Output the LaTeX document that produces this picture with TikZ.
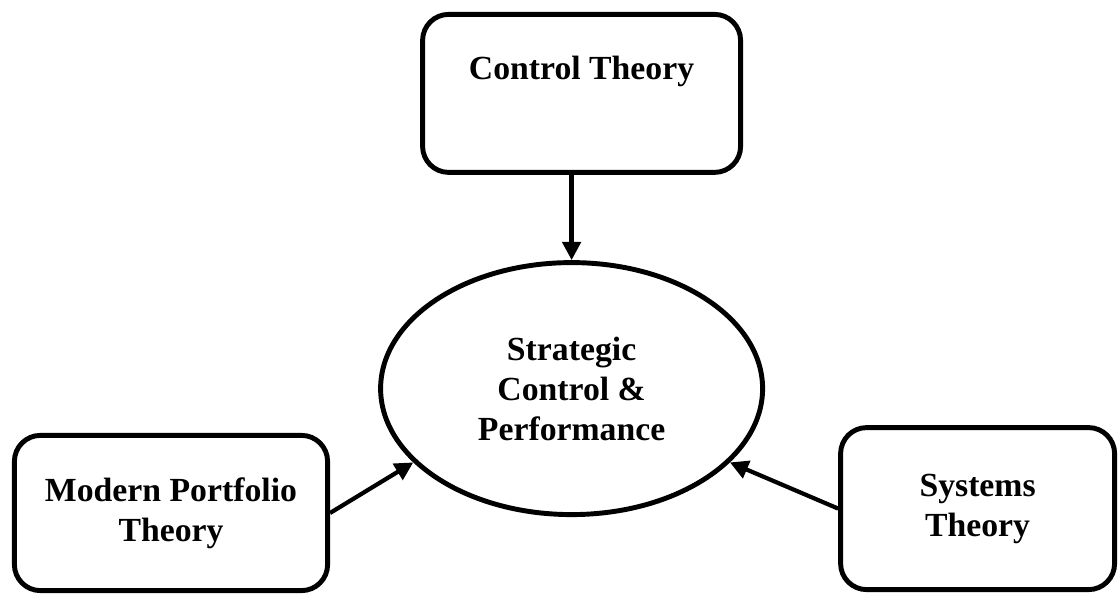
\documentclass[tikz,border=0pt]{standalone}
\usepackage{fontspec}
\setmainfont{Liberation Serif}
\usetikzlibrary{arrows.meta,positioning,shapes.geometric}

\begin{document}
\begin{tikzpicture}[
  font=\fontsize{24}{28.5}\selectfont\bfseries,
  theorybox/.style={draw,line width=3.5pt,rounded corners=0.65cm,align=center,inner sep=0pt},
  core/.style={draw,ellipse,line width=3.5pt,align=center,inner sep=0pt},
  feed/.style={line width=3pt,-{Triangle[length=13pt,width=13pt]}}]
\useasboundingbox (0,0) rectangle (28,14.875);
% theories
\node[theorybox,minimum width=7.95cm,minimum height=3.95cm] (ctrl) at (14.54,12.54) {};
\node (ctrltxt) at ([yshift=-1.5cm]ctrl.north) {Control Theory};
\node[theorybox,minimum width=7.83cm,minimum height=3.88cm] (mpt) at (4.275,2.05)
  {Modern Portfolio\\Theory};
\node[theorybox,minimum width=6.85cm,minimum height=4.05cm] (sys) at (24.44,2.16)
  {Systems\\Theory};
% centre
\node[core,minimum width=9.55cm,minimum height=6.3cm] (scp) at (14.29,5.16)
  {Strategic\\Control \&\\Performance};
% arrows
\draw[feed] (scp.north |- ctrl.south) -- (scp.north);
\draw[feed] (mpt.east) -- (scp.205.6);
\draw[feed] (sys.west) -- (scp.335.2);
\end{tikzpicture}
\end{document}
